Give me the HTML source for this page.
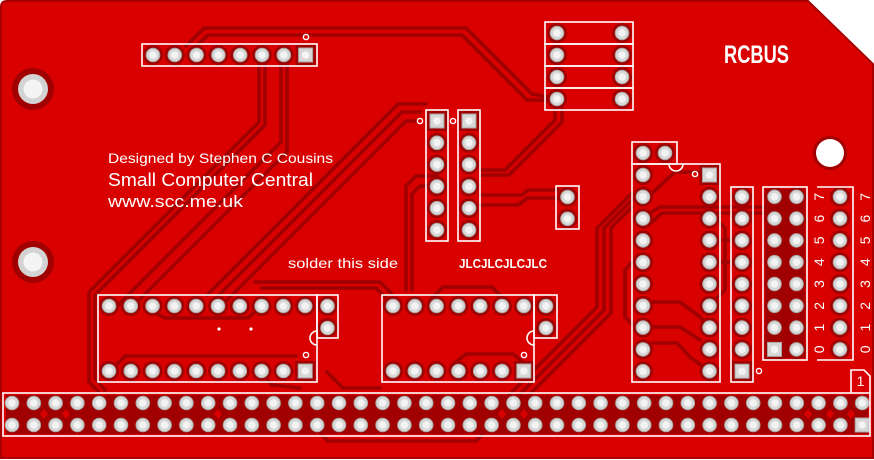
<!DOCTYPE html>
<html><head><meta charset="utf-8"><style>
html,body{margin:0;padding:0;background:#fff;}
svg{display:block;}
</style></head><body>
<svg width="874" height="460" viewBox="0 0 874 460" xmlns="http://www.w3.org/2000/svg">
<defs>
<g id="p"><circle r="10" fill="#a00000"/><circle r="7.3" fill="#a9a6a2"/><circle r="6.3" fill="#d7d7d7"/><circle r="3.8" fill="#f3f3f3"/></g>
<g id="q"><rect x="-10" y="-10" width="20" height="20" fill="#a00000"/><rect x="-7.5" y="-7.5" width="15" height="15" fill="#a9a6a2"/><rect x="-6.5" y="-6.5" width="13" height="13" fill="#d7d7d7"/><circle r="3.8" fill="#f3f3f3"/></g>
<g id="pc"><circle r="7.3" fill="#a9a6a2"/><circle r="6.3" fill="#d7d7d7"/><circle r="3.8" fill="#f3f3f3"/></g>
</defs>

<!-- board -->
<path d="M7,1 H808 L873,64 V458 H1 V7 Q1,1 7,1 Z" fill="#d90000" stroke="#a80000" stroke-width="2"/>

<!-- traces -->
<g fill="none" stroke="#a00000" stroke-width="3.6" stroke-linejoin="round" stroke-linecap="round">
<path d="M186,46 L204,28 L466,28 L532,94 L548,97"/>
<path d="M192,50 L208,35 L462,35 L527,100 L548,100"/>
<path d="M259,64 L259,122 L89,292 L89,382 L99,392"/>
<path d="M265,64 L265,125 L95,295 L95,378 L105,390"/>
<path d="M281,64 L281,142 L117,306"/>
<path d="M287,64 L287,152 L135,304"/>
<path d="M426,104 L398,104 L207,295"/>
<path d="M420,112 L402,112 L216,298"/>
<path d="M420,121 L406,121 L225,302"/>
<path d="M437,186 L420,186 L412,194 L412,290"/>
<path d="M437,176 L416,176 L406,186 L406,290"/>
<path d="M255,282 L380,282 L392,294"/>
<path d="M262,288 L376,288 L386,298"/>
<path d="M430,300 L443,287 L492,287 L505,300"/>
<path d="M452,365 L466,354 L513,354 L523,362"/>
<path d="M150,310 L165,318 L248,318 L262,306"/>
<path d="M113,368 L125,356 L296,356"/>
<path d="M632,193 L597,228 L597,307 L530,374 L482,422"/>
<path d="M632,200 L604,228 L604,310 L535,379 L490,424"/>
<path d="M632,207 L611,228 L611,313 L540,384 L498,426"/>
<path d="M555,108 L555,120 L505,170 L482,170"/>
<path d="M562,108 L562,122 L509,175 L482,175"/>
<path d="M480,195 L522,195 L528,190 L560,190"/>
<path d="M480,205 L518,205 L528,198 L560,198"/>
<path d="M650,195 L675,172 L698,172"/>
<path d="M652,212 L660,207 L768,207"/>
<path d="M652,222 L662,213 L768,213"/>
<path d="M653,302 L680,302 L700,317 L709,327"/>
<path d="M653,343 L677,343 L690,357 L709,371"/>
<path d="M653,327 L680,327 L700,340"/>
<path d="M632,262 L625,270 L625,317 L640,332"/>
<path d="M715,218 L725,228 L725,290 L715,300"/>
<path d="M720,240 L742,240"/>
<path d="M720,262 L742,262"/>
<path d="M322,435 L328,441 L476,441 L482,435"/>
<path d="M327,372 L343,388 L380,388"/>
<path d="M260,372 L272,385 L300,388"/>
</g>

<!-- bottom connector copper fill -->
<rect x="6" y="395" width="862" height="39" fill="#a00000"/>
<g fill="#d90000">
<path d="M44,409 L48,414 L44,419 L40,414Z"/>
<path d="M66,409 L70,414 L66,419 L62,414Z"/>
<path d="M218,409 L222,414 L218,419 L214,414Z"/>
<path d="M502,409 L506,414 L502,419 L498,414Z"/>
<path d="M524,409 L528,414 L524,419 L520,414Z"/>
<path d="M808,409 L812,414 L808,419 L804,414Z"/>
<path d="M830,409 L834,414 L830,419 L826,414Z"/>
<path d="M851,409 L855,414 L851,419 L847,414Z"/>
</g>

<!-- 2x8 header copper -->
<rect x="765" y="189" width="40" height="169" fill="#a00000"/>

<!-- mounting holes -->
<circle cx="33" cy="89" r="21" fill="#a00000"/><circle cx="33" cy="89" r="15" fill="#d3d3d3"/><circle cx="33" cy="89" r="9.5" fill="#f4f4f4"/>
<circle cx="33" cy="262" r="21" fill="#a00000"/><circle cx="33" cy="262" r="15" fill="#d3d3d3"/><circle cx="33" cy="262" r="9.5" fill="#f4f4f4"/>
<circle cx="830" cy="153" r="17" fill="#a00000"/><circle cx="830" cy="153" r="14" fill="#ffffff"/>

<!-- top-left header -->
<use href="#p" x="153" y="55"/><use href="#p" x="174.8" y="55"/><use href="#p" x="196.6" y="55"/><use href="#p" x="218.4" y="55"/><use href="#p" x="240.2" y="55"/><use href="#p" x="262" y="55"/><use href="#p" x="283.8" y="55"/><use href="#q" x="305.6" y="55"/>

<!-- top jumper block -->
<use href="#p" x="557" y="33"/><use href="#p" x="622" y="33"/>
<use href="#p" x="557" y="55"/><use href="#p" x="622" y="55"/>
<use href="#p" x="557" y="77"/><use href="#p" x="622" y="77"/>
<use href="#p" x="557" y="99"/><use href="#p" x="622" y="99"/>

<!-- 1x6 headers -->
<use href="#q" x="437" y="121"/><use href="#p" x="437" y="142.8"/><use href="#p" x="437" y="164.6"/><use href="#p" x="437" y="186.4"/><use href="#p" x="437" y="208.2"/><use href="#p" x="437" y="230"/>
<use href="#q" x="469" y="121"/><use href="#p" x="469" y="142.8"/><use href="#p" x="469" y="164.6"/><use href="#p" x="469" y="186.4"/><use href="#p" x="469" y="208.2"/><use href="#p" x="469" y="230"/>

<!-- 2-pin -->
<use href="#p" x="567.5" y="197"/><use href="#p" x="567.5" y="218.8"/>

<!-- left DIP -->
<use href="#p" x="109" y="306"/><use href="#p" x="130.8" y="306"/><use href="#p" x="152.6" y="306"/><use href="#p" x="174.4" y="306"/><use href="#p" x="196.2" y="306"/><use href="#p" x="218" y="306"/><use href="#p" x="239.8" y="306"/><use href="#p" x="261.6" y="306"/><use href="#p" x="283.4" y="306"/><use href="#p" x="305.2" y="306"/>
<use href="#p" x="109" y="371"/><use href="#p" x="130.8" y="371"/><use href="#p" x="152.6" y="371"/><use href="#p" x="174.4" y="371"/><use href="#p" x="196.2" y="371"/><use href="#p" x="218" y="371"/><use href="#p" x="239.8" y="371"/><use href="#p" x="261.6" y="371"/><use href="#p" x="283.4" y="371"/><use href="#q" x="305.2" y="371"/>
<use href="#p" x="327.5" y="306"/><use href="#p" x="327.5" y="328"/>

<!-- right DIP -->
<use href="#p" x="393" y="306"/><use href="#p" x="414.8" y="306"/><use href="#p" x="436.6" y="306"/><use href="#p" x="458.4" y="306"/><use href="#p" x="480.2" y="306"/><use href="#p" x="502" y="306"/><use href="#p" x="523.8" y="306"/>
<use href="#p" x="393" y="371"/><use href="#p" x="414.8" y="371"/><use href="#p" x="436.6" y="371"/><use href="#p" x="458.4" y="371"/><use href="#p" x="480.2" y="371"/><use href="#p" x="502" y="371"/><use href="#q" x="523.8" y="371"/>
<use href="#p" x="546" y="306"/><use href="#p" x="546" y="328"/>

<!-- vertical DIP -->
<use href="#p" x="643" y="153"/><use href="#p" x="665" y="153"/>
<use href="#p" x="643" y="175"/><use href="#p" x="643" y="196.8"/><use href="#p" x="643" y="218.6"/><use href="#p" x="643" y="240.4"/><use href="#p" x="643" y="262.2"/><use href="#p" x="643" y="284"/><use href="#p" x="643" y="305.8"/><use href="#p" x="643" y="327.6"/><use href="#p" x="643" y="349.4"/><use href="#p" x="643" y="371.2"/>
<use href="#q" x="709.5" y="175"/><use href="#p" x="709.5" y="196.8"/><use href="#p" x="709.5" y="218.6"/><use href="#p" x="709.5" y="240.4"/><use href="#p" x="709.5" y="262.2"/><use href="#p" x="709.5" y="284"/><use href="#p" x="709.5" y="305.8"/><use href="#p" x="709.5" y="327.6"/><use href="#p" x="709.5" y="349.4"/><use href="#p" x="709.5" y="371.2"/>

<!-- 1x9 -->
<use href="#p" x="742" y="196.8"/><use href="#p" x="742" y="218.6"/><use href="#p" x="742" y="240.4"/><use href="#p" x="742" y="262.2"/><use href="#p" x="742" y="284"/><use href="#p" x="742" y="305.8"/><use href="#p" x="742" y="327.6"/><use href="#p" x="742" y="349.4"/><use href="#q" x="742" y="371.2"/>

<!-- 2x8 -->
<use href="#p" x="774.5" y="196.8"/><use href="#p" x="774.5" y="218.6"/><use href="#p" x="774.5" y="240.4"/><use href="#p" x="774.5" y="262.2"/><use href="#p" x="774.5" y="284"/><use href="#p" x="774.5" y="305.8"/><use href="#p" x="774.5" y="327.6"/><use href="#q" x="774.5" y="349.4"/>
<use href="#p" x="796.5" y="196.8"/><use href="#p" x="796.5" y="218.6"/><use href="#p" x="796.5" y="240.4"/><use href="#p" x="796.5" y="262.2"/><use href="#p" x="796.5" y="284"/><use href="#p" x="796.5" y="305.8"/><use href="#p" x="796.5" y="327.6"/><use href="#p" x="796.5" y="349.4"/>

<!-- 1x8 -->
<use href="#p" x="840" y="196.8"/><use href="#p" x="840" y="218.6"/><use href="#p" x="840" y="240.4"/><use href="#p" x="840" y="262.2"/><use href="#p" x="840" y="284"/><use href="#p" x="840" y="305.8"/><use href="#p" x="840" y="327.6"/><use href="#p" x="840" y="349.4"/>

<!-- bottom connector pins -->
<g>
<use href="#pc" x="12" y="403"/><use href="#pc" x="33.8" y="403"/><use href="#pc" x="55.6" y="403"/><use href="#pc" x="77.4" y="403"/><use href="#pc" x="99.2" y="403"/><use href="#pc" x="121" y="403"/><use href="#pc" x="142.8" y="403"/><use href="#pc" x="164.6" y="403"/><use href="#pc" x="186.4" y="403"/><use href="#pc" x="208.2" y="403"/><use href="#pc" x="230" y="403"/><use href="#pc" x="251.8" y="403"/><use href="#pc" x="273.6" y="403"/><use href="#pc" x="295.4" y="403"/><use href="#pc" x="317.2" y="403"/><use href="#pc" x="339" y="403"/><use href="#pc" x="360.8" y="403"/><use href="#pc" x="382.6" y="403"/><use href="#pc" x="404.4" y="403"/><use href="#pc" x="426.2" y="403"/><use href="#pc" x="448" y="403"/><use href="#pc" x="469.8" y="403"/><use href="#pc" x="491.6" y="403"/><use href="#pc" x="513.4" y="403"/><use href="#pc" x="535.2" y="403"/><use href="#pc" x="557" y="403"/><use href="#pc" x="578.8" y="403"/><use href="#pc" x="600.6" y="403"/><use href="#pc" x="622.4" y="403"/><use href="#pc" x="644.2" y="403"/><use href="#pc" x="666" y="403"/><use href="#pc" x="687.8" y="403"/><use href="#pc" x="709.6" y="403"/><use href="#pc" x="731.4" y="403"/><use href="#pc" x="753.2" y="403"/><use href="#pc" x="775" y="403"/><use href="#pc" x="796.8" y="403"/><use href="#pc" x="818.6" y="403"/><use href="#pc" x="840.4" y="403"/><use href="#pc" x="862.2" y="403"/>
<use href="#pc" x="12" y="425"/><use href="#pc" x="33.8" y="425"/><use href="#pc" x="55.6" y="425"/><use href="#pc" x="77.4" y="425"/><use href="#pc" x="99.2" y="425"/><use href="#pc" x="121" y="425"/><use href="#pc" x="142.8" y="425"/><use href="#pc" x="164.6" y="425"/><use href="#pc" x="186.4" y="425"/><use href="#pc" x="208.2" y="425"/><use href="#pc" x="230" y="425"/><use href="#pc" x="251.8" y="425"/><use href="#pc" x="273.6" y="425"/><use href="#pc" x="295.4" y="425"/><use href="#pc" x="317.2" y="425"/><use href="#pc" x="339" y="425"/><use href="#pc" x="360.8" y="425"/><use href="#pc" x="382.6" y="425"/><use href="#pc" x="404.4" y="425"/><use href="#pc" x="426.2" y="425"/><use href="#pc" x="448" y="425"/><use href="#pc" x="469.8" y="425"/><use href="#pc" x="491.6" y="425"/><use href="#pc" x="513.4" y="425"/><use href="#pc" x="535.2" y="425"/><use href="#pc" x="557" y="425"/><use href="#pc" x="578.8" y="425"/><use href="#pc" x="600.6" y="425"/><use href="#pc" x="622.4" y="425"/><use href="#pc" x="644.2" y="425"/><use href="#pc" x="666" y="425"/><use href="#pc" x="687.8" y="425"/><use href="#pc" x="709.6" y="425"/><use href="#pc" x="731.4" y="425"/><use href="#pc" x="753.2" y="425"/><use href="#pc" x="775" y="425"/><use href="#pc" x="796.8" y="425"/><use href="#pc" x="818.6" y="425"/><use href="#pc" x="840.4" y="425"/>
<rect x="854.7" y="417.5" width="15" height="15" fill="#a9a6a2"/><rect x="855.7" y="418.5" width="13" height="13" fill="#d7d7d7"/><circle cx="862.2" cy="425" r="3.8" fill="#f3f3f3"/>
</g>

<!-- silkscreen -->
<g fill="none" stroke="#ffffff" stroke-width="1.6">
<rect x="142" y="44" width="175" height="22"/>
<rect x="545" y="22" width="88" height="22"/><rect x="545" y="44" width="88" height="22"/><rect x="545" y="66" width="88" height="22"/><rect x="545" y="88" width="88" height="22"/>
<rect x="426" y="110" width="22" height="131"/>
<rect x="458" y="110" width="22" height="131"/>
<rect x="556" y="186" width="23" height="43"/>
<rect x="98" y="295" width="219" height="87"/>
<path d="M317,331 A7,7 0 0 0 317,345"/>
<rect x="317" y="295" width="21" height="43"/>
<rect x="382" y="295" width="152" height="87"/>
<path d="M534,331 A7,7 0 0 0 534,345"/>
<rect x="534" y="295" width="23" height="43"/>
<rect x="632" y="142" width="45" height="22"/>
<rect x="632" y="164" width="88" height="218"/>
<path d="M669,164 A7,7 0 0 0 683,164"/>
<rect x="731" y="187" width="22" height="195"/>
<rect x="763" y="187" width="44" height="173"/>
<path d="M817,187 H853 V360 H817"/>
<rect x="3" y="393" width="867" height="43"/>
<path d="M851,393 V370 H864 L870,376 V393"/>
</g>

<!-- vias -->
<g fill="#d90000" stroke="#ffffff" stroke-width="1.4">
<circle cx="306" cy="37" r="2.6"/>
<circle cx="420" cy="121" r="2.6"/>
<circle cx="453" cy="121" r="2.6"/>
<circle cx="695" cy="174" r="2.6"/>
<circle cx="759" cy="371" r="2.6"/>
<circle cx="306" cy="355" r="2.6"/>
<circle cx="524" cy="355" r="2.6"/>
</g>
<circle cx="219" cy="329" r="1.6" fill="#fff"/>
<circle cx="251" cy="329" r="1.6" fill="#fff"/>

<!-- text -->
<g fill="#ffffff" font-family="'Liberation Sans', sans-serif">
<text x="724" y="63" font-size="25" font-weight="bold" textLength="65" lengthAdjust="spacingAndGlyphs">RCBUS</text>
<text x="108" y="163" font-size="14" textLength="225" lengthAdjust="spacingAndGlyphs">Designed by Stephen C Cousins</text>
<text x="108" y="186" font-size="18" textLength="205" lengthAdjust="spacingAndGlyphs">Small Computer Central</text>
<text x="108" y="207" font-size="17" textLength="135" lengthAdjust="spacingAndGlyphs">www.scc.me.uk</text>
<text x="288" y="268" font-size="14" textLength="110" lengthAdjust="spacingAndGlyphs">solder this side</text>
<text x="459" y="268" font-size="12.5" font-weight="bold" textLength="88" lengthAdjust="spacingAndGlyphs">JLCJLCJLCJLC</text>
<text x="860.5" y="386" font-size="14" text-anchor="middle">1</text>
<g font-size="14" text-anchor="middle">
<text transform="translate(824,196.8) rotate(-90)">7</text>
<text transform="translate(824,218.6) rotate(-90)">6</text>
<text transform="translate(824,240.4) rotate(-90)">5</text>
<text transform="translate(824,262.2) rotate(-90)">4</text>
<text transform="translate(824,284) rotate(-90)">3</text>
<text transform="translate(824,305.8) rotate(-90)">2</text>
<text transform="translate(824,327.6) rotate(-90)">1</text>
<text transform="translate(824,349.4) rotate(-90)">0</text>
<text transform="translate(870,196.8) rotate(-90)">7</text>
<text transform="translate(870,218.6) rotate(-90)">6</text>
<text transform="translate(870,240.4) rotate(-90)">5</text>
<text transform="translate(870,262.2) rotate(-90)">4</text>
<text transform="translate(870,284) rotate(-90)">3</text>
<text transform="translate(870,305.8) rotate(-90)">2</text>
<text transform="translate(870,327.6) rotate(-90)">1</text>
<text transform="translate(870,349.4) rotate(-90)">0</text>
</g>
</g>
</svg>
</body></html>
